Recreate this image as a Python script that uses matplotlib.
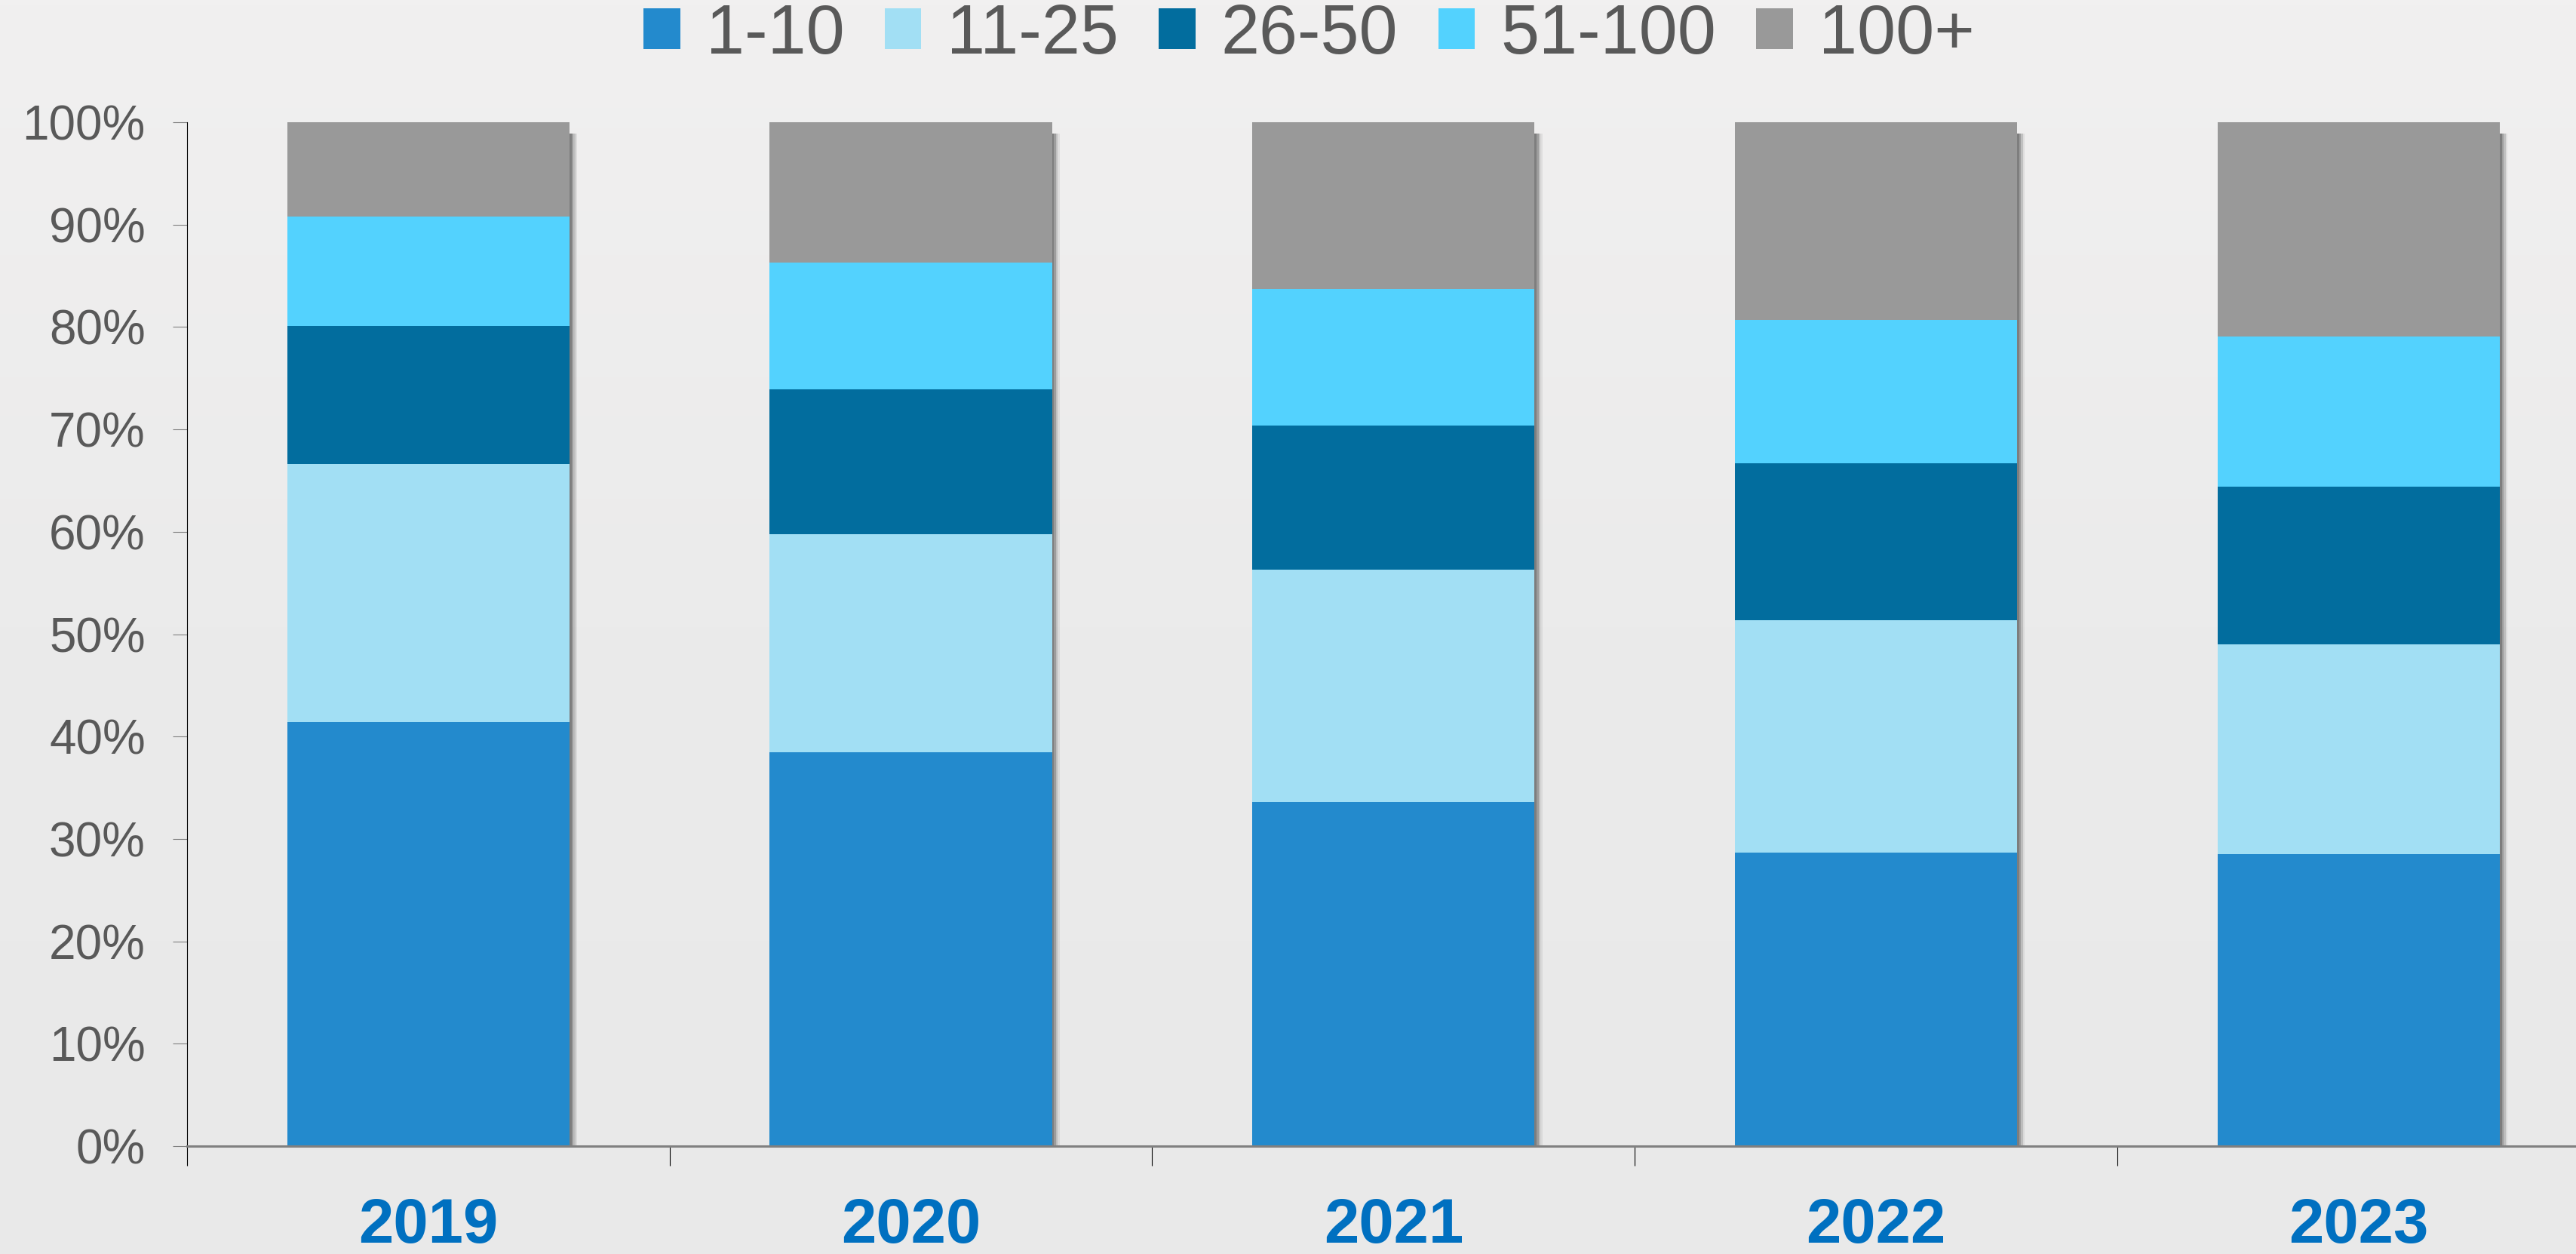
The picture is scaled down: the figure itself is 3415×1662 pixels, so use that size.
import matplotlib

matplotlib.use("Agg")
import matplotlib.pyplot as plt
import numpy as np
from matplotlib.ticker import FixedLocator, PercentFormatter

years = ["2019", "2020", "2021", "2022", "2023"]
series_names = ["1-10", "11-25", "26-50", "51-100", "100+"]

# share of total, percent
share_1_10 = [41.4, 38.5, 33.6, 28.7, 28.5]
share_11_25 = [25.2, 21.3, 22.7, 22.7, 20.5]
share_26_50 = [13.5, 14.1, 14.1, 15.3, 15.4]
share_51_100 = [10.7, 12.4, 13.3, 14.0, 14.7]
share_100_plus = [9.2, 13.7, 16.3, 19.3, 20.9]

colors = ["#238ACD", "#A2DFF4", "#026D9E", "#53D2FE", "#999999"]
text_grey = "#595959"
year_blue = "#0070C0"

plt.rcParams["font.family"] = ["Liberation Sans", "DejaVu Sans"]

fig = plt.figure(figsize=(34.16, 16.62), dpi=100)
fig.patch.set_facecolor("#ececec")

# soft vertical background gradient, lighter at the top
bg = fig.add_axes([0, 0, 1, 1], zorder=-10)
grad = np.linspace(0, 1, 256).reshape(-1, 1)
bg_cmap = matplotlib.colors.LinearSegmentedColormap.from_list(
    "bg", ["#e9e9e9", "#ebebeb", "#f1f0f0"])
bg.imshow(grad, aspect="auto", extent=[0, 1, 0, 1], origin="lower", cmap=bg_cmap)
bg.set_axis_off()

ax = fig.add_axes([0.0726, 0.086, 0.9364, 0.8165])
ax.set_facecolor("none")

x = np.arange(len(years))
width = 0.585
stack = [share_1_10, share_11_25, share_26_50, share_51_100, share_100_plus]

# drop shadow on the right of each bar
for off, alpha in [(0.004, 0.6), (0.008, 0.4), (0.012, 0.25), (0.016, 0.12)]:
    ax.bar(x + off, 99.2, width=width, bottom=-0.3, color="#6a6a6a",
           alpha=alpha, linewidth=0, zorder=1)

bottom = np.zeros(len(years))
for name, vals, col in zip(series_names, stack, colors):
    ax.bar(x, vals, width=width, bottom=bottom, color=col, label=name,
           linewidth=0, zorder=2)
    bottom += np.array(vals)

ax.set_xlim(-0.5, len(years) - 0.5)
ax.set_ylim(0, 100)

ax.yaxis.set_major_locator(FixedLocator(np.arange(0, 101, 10)))
ax.yaxis.set_major_formatter(PercentFormatter(decimals=0))
ax.tick_params(axis="y", labelsize=46, labelcolor=text_grey, color="#808080",
               length=13.7, width=0.8, pad=26)

ax.set_xticks(x)
ax.set_xticklabels(years)
ax.tick_params(axis="x", which="major", length=0, pad=48, labelsize=60,
               labelcolor=year_blue)
for lbl in ax.get_xticklabels():
    lbl.set_fontweight("bold")
ax.set_xticks(np.arange(-0.5, len(years), 1.0), minor=True)
ax.tick_params(axis="x", which="minor", length=18.7, width=0.8, color="black",
               direction="out")

for side in ["top", "right"]:
    ax.spines[side].set_visible(False)
ax.spines["left"].set_color("black")
ax.spines["left"].set_linewidth(0.8)
ax.spines["bottom"].set_color("#808080")
ax.spines["bottom"].set_linewidth(2.2)
ax.spines["bottom"].set_zorder(3)

leg = fig.legend(loc="center", bbox_to_anchor=(0.508, 0.972), ncol=5,
                 frameon=False, fontsize=66, handlelength=0.53,
                 handleheight=0.54, handletextpad=0.37, columnspacing=0.58,
                 borderaxespad=0, borderpad=0)
for t in leg.get_texts():
    t.set_color(text_grey)

fig.savefig("out.png", dpi=100, facecolor=fig.get_facecolor())
